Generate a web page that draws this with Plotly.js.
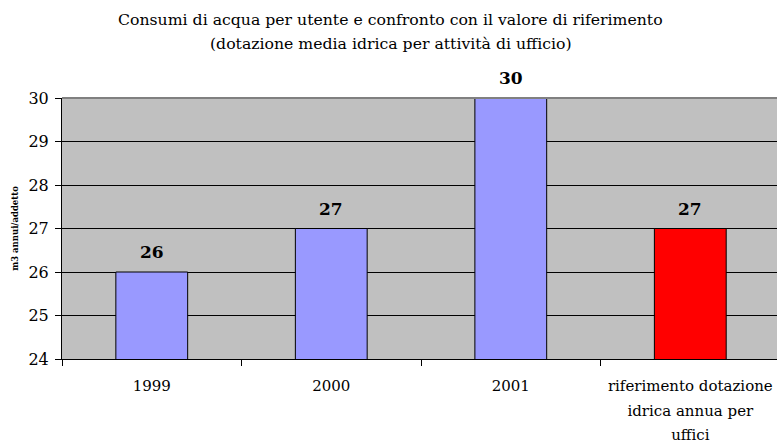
<!DOCTYPE html>
<html><head><meta charset="utf-8">
<script src="https://cdn.plot.ly/plotly-3.0.1.min.js"></script>
<style>html,body{margin:0;padding:0;background:#fff}#chart{width:777px;height:446px}</style>
</head><body><div id="chart"></div>
<script>
const categories = ["1999", "2000", "2001", "riferimento dotazione<br>idrica annua per<br>uffici"];
const values = [26, 27, 30, 27];
const barColors = ["#9999FF", "#9999FF", "#9999FF", "#FF0000"];
const yTicks = [24, 25, 26, 27, 28, 29, 30];
const titleLines = ["Consumi di acqua per utente e confronto con il valore di riferimento", "(dotazione media idrica per attività di ufficio)"];

const serif = "DejaVu Serif";

const tickText = categories.map(c => c.split("<br>").map(l => '<span style="font-size:15px">' + l + '</span>').join("<br>"));

const trace = {
  type: "bar",
  x: categories.map((c, i) => i),
  y: values,
  width: 0.4,
  marker: { color: barColors, line: { color: "#000", width: 1 } },
  hoverinfo: "none",
  cliponaxis: true
};

const annotations = values.map((v, i) => ({
  x: i, y: v, xref: "x", yref: "y",
  text: "<b>" + v + "</b>",
  showarrow: false, yanchor: "bottom", yshift: 8,
  font: { family: serif, size: 17, color: "#000" }
}));
titleLines.forEach((t, i) => annotations.push({
  xref: "paper", yref: "paper", x: 0.46, y: [1.2989, 1.2069][i],
  xanchor: "center", yanchor: "middle", showarrow: false, text: t,
  font: { family: serif, size: 15.7, color: "#000" }
}));

const layout = {
  width: 777, height: 446,
  margin: { l: 62, r: 0, t: 98, b: 87 },
  paper_bgcolor: "#fff",
  plot_bgcolor: "#C0C0C0",
  showlegend: false,
  font: { family: serif },
  xaxis: {
    type: "category",
    range: [-0.5, 3.483],
    tickvals: categories.map((c, i) => i),
    ticktext: tickText,
    showgrid: false,
    showline: true, linecolor: "#000", linewidth: 1,
    ticks: "outside", ticklen: 6, tickcolor: "#000", tickson: "boundaries",
    ticklabelstandoff: 8,
    tickfont: { family: serif, size: 19, color: "#000" },
    zeroline: false
  },
  yaxis: {
    range: [24, 30],
    tickvals: yTicks,
    showgrid: true, gridcolor: "#000", gridwidth: 1,
    showline: true, linecolor: "#000", linewidth: 1,
    ticks: "outside", ticklen: 6, tickcolor: "#000",
    ticklabelstandoff: 3,
    tickfont: { family: serif, size: 16, color: "#000" },
    zeroline: false,
    title: { text: "<b>m3 annui/addetto</b>", font: { family: serif, size: 8.5, color: "#000" }, standoff: 8 }
  },
  annotations: annotations,
  shapes: [{
    type: "line", xref: "paper", yref: "paper", x0: 0, x1: 1, y0: 1, y1: 1,
    line: { color: "#808080", width: 2 }, layer: "above"
  }]
};

Plotly.newPlot("chart", [trace], layout, { displayModeBar: false, staticPlot: true });
</script></body></html>
